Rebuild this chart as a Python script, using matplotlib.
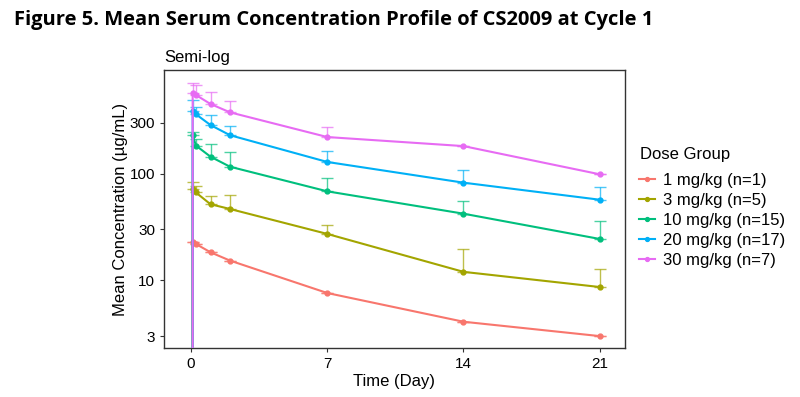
import numpy as np
import matplotlib.pyplot as plt

# Sampling times (day); time 0 is pre-dose (0 concentration, off the log axis)
time = [0, 0.083, 0.25, 1, 2, 7, 14, 21]

groups = ['1 mg/kg (n=1)', '3 mg/kg (n=5)', '10 mg/kg (n=15)',
          '20 mg/kg (n=17)', '30 mg/kg (n=7)']

# Mean concentrations (ug/mL)
mean_1 = [0, 23.0, 21.9, 18.3, 15.3, 7.6, 4.09, 3.0]
mean_3 = [0, 72.2, 66.5, 51.6, 46.6, 27.2, 12.0, 8.65]
mean_10 = [0, 230, 183, 144, 116, 68.2, 42.1, 24.4]
mean_20 = [0, 388, 360, 285, 229, 128.5, 82.2, 56.9]
mean_30 = [0, 566, 545, 449, 375, 220, 181, 98.5]

# Upper end of the error bars (mean + SD)
upper_1 = [0, 23.0, 21.9, 18.3, 15.3, 7.6, 4.09, 3.0]
upper_3 = [0, 83.4, 77.3, 62, 63, 32.8, 19.6, 12.8]
upper_10 = [0, 243, 211, 191, 159, 91, 55.7, 36.2]
upper_20 = [0, 489, 424, 354, 281, 164, 108, 75.4]
upper_30 = [0, 707, 677, 578, 482, 275, 181, 98.5]

means = [mean_1, mean_3, mean_10, mean_20, mean_30]
uppers = [upper_1, upper_3, upper_10, upper_20, upper_30]
colors = ['#F8766D', '#A3A500', '#00BF7D', '#00B0F6', '#E76BF3']

plt.rcParams['font.family'] = ['Liberation Sans', 'DejaVu Sans']

fig = plt.figure(figsize=(8, 3.97), dpi=100)
ax = fig.add_axes([0.205, 0.1234, 0.576, 0.7003])

for label, m, u, c in zip(groups, means, uppers, colors):
    t = np.array(time)
    m = np.array(m, dtype=float)
    u = np.array(u, dtype=float)
    err = u - m
    sel = m > 0
    ax.errorbar(t[sel], m[sel], yerr=[np.zeros(sel.sum()), err[sel]],
                fmt='none', ecolor=c, elinewidth=1.0, capsize=4.5,
                capthick=1.0, alpha=0.7, zorder=2)
    ax.plot(t, m, color=c, lw=1.5, marker='o', ms=3.5, label=label,
            zorder=3)

ax.set_yscale('log')
ax.set_ylim(2.32, 935)
ax.set_xlim(-1.39, 22.29)
ax.set_xticks([0, 7, 14, 21])
ax.set_yticks([3, 10, 30, 100, 300])
ax.set_yticklabels(['3', '10', '30', '100', '300'])
ax.minorticks_off()
ax.tick_params(axis='both', labelsize=11, colors='#333333', length=3,
               labelcolor='black')
for s in ax.spines.values():
    s.set_color('#333333')
    s.set_linewidth(1.0)

ax.set_xlabel('Time (Day)', fontsize=12, labelpad=2)
ax.set_ylabel('Mean Concentration (µg/mL)', fontsize=12, labelpad=1)
ax.set_title('Semi-log', fontsize=12, loc='left', pad=6)

# legend title placed separately to get the ggplot-like gap
fig.text(0.80, 1 - 155 / 397, 'Dose Group', fontsize=12, va='center',
         ha='left')
leg = ax.legend(loc='upper left', bbox_to_anchor=(1.005, 0.673),
                frameon=False, fontsize=12, handlelength=1.0,
                labelspacing=0.31, handletextpad=0.45, markerscale=0.8,
                borderpad=0.2)

fig.text(0.017, 0.95, 'Figure 5. Mean Serum Concentration Profile of CS2009 at Cycle 1',
         fontsize=14.5, fontweight='bold', family=['Open Sans', 'DejaVu Sans'],
         va='center', ha='left')

fig.savefig('out.png', dpi=100)
